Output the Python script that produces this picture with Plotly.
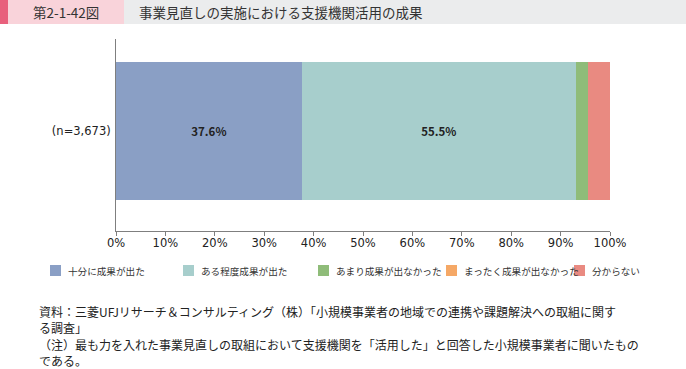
import plotly.graph_objects as go

category = ["(n=3,673)"]
series_names = ["十分に成果が出た", "ある程度成果が出た", "あまり成果が出なかった", "まったく成果が出なかった", "分からない"]
series_values = [37.6, 55.5, 2.5, 0.0, 4.4]
series_colors = ["#8a9fc5", "#a7cecc", "#8fbc79", "#f5a866", "#e98a81"]
show_labels = [True, True, False, False, False]
tick_vals = [0, 10, 20, 30, 40, 50, 60, 70, 80, 90, 100]
tick_text = [f"{v}%" for v in tick_vals]
legend_x = [50, 183, 318, 446, 574]

W, H = 686, 369
L, R, T, B = 116, 610, 39, 231
FONT = "Noto Sans CJK JP"


def px(x):
    return (x - L) / (R - L)


def py(y):
    return (B - y) / (B - T)


fig = go.Figure()
for name, val, col, lab in zip(series_names, series_values, series_colors, show_labels):
    fig.add_trace(go.Bar(
        y=category, x=[val], name=name, orientation="h",
        marker=dict(color=col, line=dict(width=0)),
        text=[f"{val:.1f}%"] if lab else None,
        textposition="inside", insidetextanchor="middle",
        textfont=dict(family=FONT, size=11.5, color="#222222", weight="bold"),
        width=0.72, hoverinfo="skip", showlegend=False,
    ))

shapes = [
    dict(type="rect", xref="paper", yref="paper", x0=px(0), x1=px(8), y0=py(24), y1=py(0),
         fillcolor="#e8607c", line=dict(width=0), layer="above"),
    dict(type="rect", xref="paper", yref="paper", x0=px(8), x1=px(124), y0=py(24), y1=py(0),
         fillcolor="#f9d3da", line=dict(width=0), layer="above"),
    dict(type="rect", xref="paper", yref="paper", x0=px(124), x1=px(686), y0=py(24), y1=py(0),
         fillcolor="#ebeced", line=dict(width=0), layer="above"),
]

annotations = [
    dict(text="第2-1-42図", xref="paper", yref="paper", x=px(66), y=py(12),
         xanchor="center", yanchor="middle", showarrow=False,
         font=dict(family=FONT, size=13.5, color="#333333")),
    dict(text="事業見直しの実施における支援機関活用の成果", xref="paper", yref="paper", x=px(137), y=py(12),
         xanchor="left", yanchor="middle", showarrow=False,
         font=dict(family=FONT, size=13.5, color="#333333")),
]

# manual legend
for name, col, lx in zip(series_names, series_colors, legend_x):
    shapes.append(dict(type="rect", xref="paper", yref="paper", x0=px(lx), x1=px(lx + 11),
                       y0=py(276), y1=py(265), fillcolor=col, line=dict(width=0)))
    annotations.append(dict(text=name, xref="paper", yref="paper", x=px(lx + 16), y=py(270.5),
                            xanchor="left", yanchor="middle", showarrow=False,
                            font=dict(family=FONT, size=9.6, color="#333333")))

notes = [
    (37, 311, "資料：三菱UFJリサーチ＆コンサルティング（株）「小規模事業者の地域での連携や課題解決への取組に関す"),
    (37, 327.5, "る調査」"),
    (37, 344, "（注）最も力を入れた事業見直しの取組において支援機関を「活用した」と回答した小規模事業者に聞いたもの"),
    (37, 360, "である。"),
]
for x, y, t in notes:
    annotations.append(dict(text=t, xref="paper", yref="paper", x=px(x), y=py(y),
                            xanchor="left", yanchor="middle", showarrow=False,
                            font=dict(family=FONT, size=12, color="#222222")))

fig.update_layout(
    width=W, height=H,
    margin=dict(l=L, r=W - R, t=T, b=H - B, pad=0, autoexpand=False),
    barmode="stack",
    paper_bgcolor="white", plot_bgcolor="white",
    font=dict(family=FONT, size=11, color="#222222"),
    showlegend=False,
    xaxis=dict(range=[0, 100], tickvals=tick_vals, ticktext=tick_text, automargin=False,
               showgrid=False, zeroline=False, showline=True, linecolor="#7f7f7f", linewidth=1,
               ticks="outside", ticklen=4, tickcolor="#7f7f7f", ticklabelstandoff=-3,
               tickfont=dict(family="DejaVu Sans", size=11.5, color="#222222"), fixedrange=True),
    yaxis=dict(range=[-0.52, 0.48], showgrid=False, zeroline=False, automargin=False,
               showline=True, linecolor="#7f7f7f", linewidth=1, ticks="", ticklen=0,
               ticklabelstandoff=2,
               tickfont=dict(family="DejaVu Sans", size=11.5, color="#222222"), fixedrange=True),
    shapes=shapes, annotations=annotations,
)

fig.write_html("out.html", config={"displayModeBar": False},
               post_script="document.body.style.margin='0';document.body.style.overflow='hidden';")
